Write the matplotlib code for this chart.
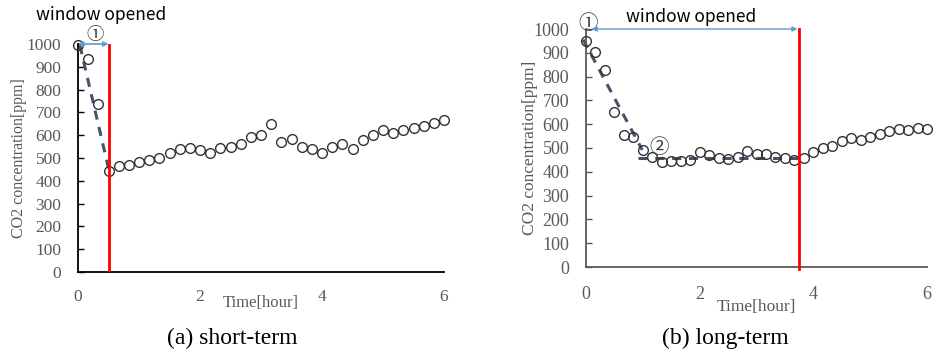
import matplotlib
matplotlib.use('Agg')
import matplotlib.pyplot as plt
import numpy as np

# time axis: one reading every 10 minutes over 6 hours
time_h = np.arange(37) / 6.0

co2_short = [995, 934, 737, 443, 466, 469, 481, 490, 501, 520, 539, 545, 535,
             520, 545, 548, 560, 590, 600, 650, 571, 582, 550, 539, 520, 550,
             561, 539, 579, 601, 621, 611, 621, 632, 642, 652, 667]
co2_long = [951, 905, 826, 652, 555, 548, 492, 463, 440, 447, 445, 450, 484,
            472, 459, 455, 463, 487, 475, 473, 461, 458, 450, 459, 484, 500,
            510, 529, 541, 535, 548, 560, 571, 581, 576, 585, 581]

# window closing time and trend lines
close_short = 0.5
close_long = 3.74
trend_short_x = [0.03, 0.5]
trend_short_y = [995, 455]
trend_long_x = [-0.05, 0.99]
trend_long_y = [955, 492]
plateau_x = [0.92, 3.77]
plateau_y = [460, 460]

yticks = [0, 100, 200, 300, 400, 500, 600, 700, 800, 900, 1000]
xticks = [0, 2, 4, 6]

GRAY = '#595959'
SERIF = 'Liberation Serif'
CJK = ['Noto Sans CJK KR', 'DejaVu Sans']

fig = plt.figure(figsize=(9.43, 3.53), dpi=100)
ax1 = fig.add_axes([78/943, 1-272/353, (444-78)/943, (272-44)/353])
ax2 = fig.add_axes([586/943, 1-267/353, (927-586)/943, (267-29)/353])


def style_axes(ax, spine_color, tick_size, ypad, xpad):
    ax.set_xlim(0, 6)
    ax.set_ylim(0, 1000)
    ax.set_xticks(xticks)
    ax.set_yticks(yticks)
    for s in ['top', 'right']:
        ax.spines[s].set_visible(False)
    for s in ['left', 'bottom']:
        ax.spines[s].set_color(spine_color)
        ax.spines[s].set_linewidth(1.3)
    ax.tick_params(axis='y', direction='in', length=4, width=1,
                   color=spine_color, pad=ypad)
    ax.tick_params(axis='x', length=0, pad=xpad)
    for lab in ax.get_xticklabels() + ax.get_yticklabels():
        lab.set_fontfamily(SERIF)
        lab.set_fontsize(tick_size)
        lab.set_color(GRAY)


# ---- (a) short-term ----
style_axes(ax1, 'black', 12.5, 12, 12)
ax1.plot(trend_short_x, trend_short_y, color='#44546A', lw=2.2,
         dashes=(3, 2.5), zorder=2)
ax1.plot(time_h, co2_short, 'o', ms=7, mfc='none', mec='#333333', mew=1,
         clip_on=False, zorder=3)
ax1.plot([close_short, close_short], [10, 1000], color='#FF0000', lw=2, zorder=4)
ax1.annotate('', xy=(close_short, 1000), xytext=(0, 1000),
             arrowprops=dict(arrowstyle='<|-|>', color='#5B9BD5', lw=1.2,
                             mutation_scale=7, shrinkA=0, shrinkB=0),
             annotation_clip=False, zorder=5)
ax1.text(0.38, 1125, 'window opened', family=CJK, fontsize=12.5,
         ha='center', va='center')
ax1.text(0.28, 1038, '\u2460', family=CJK, fontsize=12.5, ha='center',
         va='center', color='#333333')
ax1.set_ylabel('CO2 concentration[ppm]', family=SERIF, fontsize=11.5,
               color=GRAY)
ax1.yaxis.set_label_coords(-0.14, 0.5)
ax1.set_xlabel('Time[hour]', family=SERIF, fontsize=12, color=GRAY)
ax1.xaxis.set_label_coords(0.5, -0.135)
ax1.xaxis.label.set_va('center')

# ---- (b) long-term ----
style_axes(ax2, GRAY, 13, 12, 14)
ax2.plot(trend_long_x, trend_long_y, color='#44546A', lw=2.2,
         dashes=(3, 2.5), zorder=2, clip_on=False)
ax2.plot(plateau_x, plateau_y, color='#44546A', lw=2.2,
         dashes=(3, 2.5), zorder=2)
ax2.plot(time_h, co2_long, 'o', ms=7, mfc='none', mec='#333333', mew=1,
         clip_on=False, zorder=3)
ax2.plot([close_long, close_long], [-10, 1000], color='#FF0000', lw=2,
         zorder=4, clip_on=False)
ax2.annotate('', xy=(close_long - 0.02, 1000), xytext=(0.1, 1000),
             arrowprops=dict(arrowstyle='<|-|>', color='#5B9BD5', lw=1,
                             mutation_scale=7, shrinkA=0, shrinkB=0),
             annotation_clip=False, zorder=5)
ax2.text(1.85, 1050, 'window opened', family=CJK, fontsize=12.5,
         ha='center', va='center')
ax2.text(0.04, 1025, '\u2460', family=CJK, fontsize=14, ha='center',
         va='center', color='#333333')
ax2.text(1.29, 504, '\u2461', family=CJK, fontsize=14, ha='center',
         va='center', color='#333333')
ax2.set_ylabel('CO2 concentration[ppm]', family=SERIF, fontsize=12.5,
               color=GRAY)
ax2.yaxis.set_label_coords(-0.14, 0.5)
ax2.set_xlabel('Time[hour]', family=SERIF, fontsize=12.5, color=GRAY)
ax2.xaxis.set_label_coords(0.5, -0.17)
ax2.xaxis.label.set_va('center')

# captions
fig.text(232/943, 1-338/353, '(a) short-term', family=SERIF, fontsize=17,
         ha='center', va='center')
fig.text(725/943, 1-338/353, '(b) long-term', family=SERIF, fontsize=17,
         ha='center', va='center')

fig.savefig('out.png', dpi=100)
